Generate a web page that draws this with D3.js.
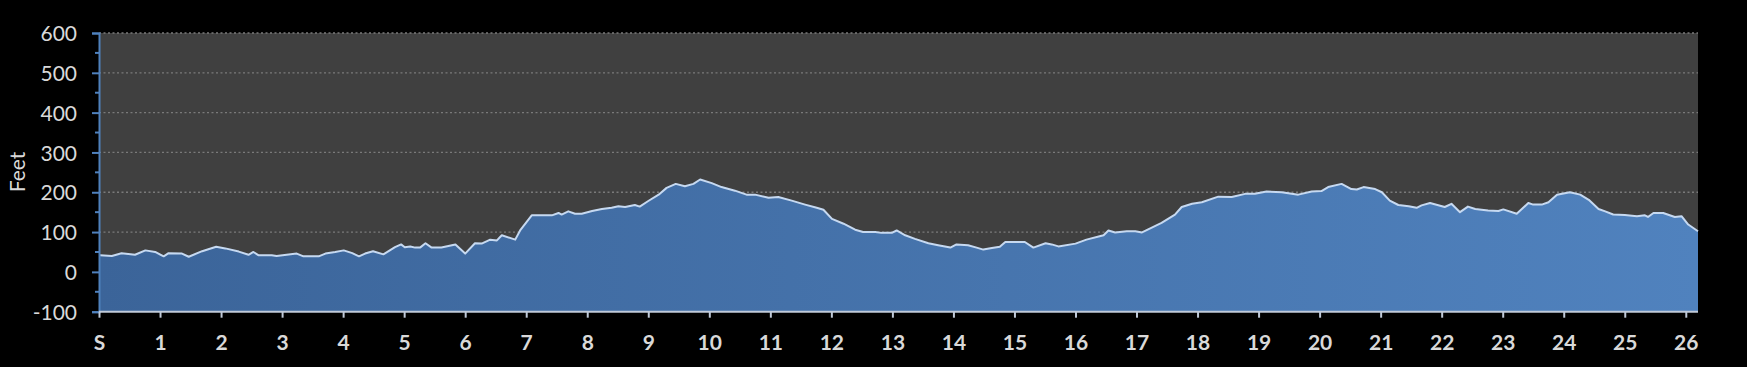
<!DOCTYPE html>
<html>
<head>
<meta charset="utf-8">
<script src="https://cdn.jsdelivr.net/npm/d3@7"></script>
<style>
  html, body { margin: 0; padding: 0; background: #000; }
  svg { display: block; }
</style>
</head>
<body>
<script>
// Elevation profile data (mile, feet)
const miles = [0,0.02,0.21,0.37,0.59,0.76,0.92,1.06,1.14,1.36,1.47,1.69,1.92,2.07,2.29,2.45,2.53,2.61,2.83,2.91,3.24,3.35,3.60,3.71,3.87,4.01,4.15,4.26,4.36,
  4.49,4.66,4.85,4.95,5.01,5.10,5.18,5.26,5.35,5.45,5.61,5.84,6.00,6.16,6.27,6.41,6.52,6.60,6.82,6.90,7.09,7.42,7.53,7.58,7.69,7.80,7.91,8.08,8.24,8.40,8.51,8.62,8.78,
  8.86,9.00,9.17,9.30,9.45,9.60,9.74,9.85,10.04,10.20,10.42,10.61,10.75,10.97,11.13,11.35,11.57,11.76,11.87,12.01,12.20,12.39,12.52,12.72,12.82,12.99,13.07,13.21,
  13.37,13.59,13.75,13.95,14.05,14.24,14.38,14.49,14.63,14.76,14.85,15.01,15.17,15.31,15.51,15.61,15.72,16.00,16.18,16.38,16.46,16.54,16.65,16.84,16.98,17.09,17.25,17.41,17.63,
  17.74,17.91,18.07,18.34,18.56,18.78,18.94,19.13,19.38,19.65,19.87,20.03,20.14,20.36,20.52,20.61,20.72,20.91,21.02,21.15,21.29,21.46,21.59,21.67,21.81,22.05,
  22.16,22.30,22.43,22.55,22.76,22.93,23.01,23.23,23.42,23.50,23.64,23.75,23.89,24.10,24.27,24.41,24.57,24.68,24.81,25.00,25.20,25.33,25.38,25.47,25.63,25.82,25.93,26.04,26.2];
const elevation = [42,42,40,47,43,54,50,39,47,46,38,52,63,59,51,43,50,42,42,40,46,39,39,46,50,54,47,39,46,
  52,44,62,69,62,64,61,61,72,61,61,69,46,72,71,81,79,92,81,104,142,142,148,144,152,146,146,153,158,161,165,163,168,
  164,178,194,211,221,215,221,232,223,213,204,194,194,186,188,179,169,161,156,133,121,106,100,100,98,98,104,92,
  83,72,67,61,69,67,61,56,60,63,75,75,75,61,72,69,64,71,81,89,92,104,99,102,102,99,111,123,144,
  163,171,175,189,188,196,196,202,200,194,202,203,213,221,208,207,213,208,200,179,168,165,161,167,173,163,
  171,150,164,158,154,153,157,146,173,169,169,175,194,200,194,181,158,152,144,143,140,142,138,148,148,138,140,119,102];

const xTickValues = d3.range(0, 27);
const xTickLabels = ["S"].concat(d3.range(1, 27).map(String));
const yTickValues = [-100, 0, 100, 200, 300, 400, 500, 600];
const yTickLabels = ["-100", "0", "100", "200", "300", "400", "500", "600"];
const yMinorValues = [-50, 50, 150, 250, 350, 450, 550];
const gridValues = [100, 200, 300, 400, 500, 600];

const W = 1747, H = 367;
const pLeft = 99, pRight = 1698, pTop = 33, pBottom = 311.7;

const svg = d3.select("body").append("svg").attr("width", W).attr("height", H);

const x = d3.scaleLinear().domain([0, 26.2]).range([pLeft, pRight]);
const y = d3.scaleLinear().domain([-100, 600]).range([pBottom, pTop]);

// plot background
svg.append("rect").attr("x", pLeft).attr("y", pTop).attr("width", pRight - pLeft).attr("height", pBottom - pTop).attr("fill", "#404040");

// gridlines
svg.append("g").selectAll("line").data(gridValues).join("line")
  .attr("x1", pLeft).attr("x2", pRight)
  .attr("y1", d => y(d)).attr("y2", d => y(d))
  .attr("stroke", "#7a7a7a").attr("stroke-width", 1.3).attr("stroke-dasharray", "2,2.5");

// gradient
const defs = svg.append("defs");
const grad = defs.append("linearGradient").attr("id", "areaGrad").attr("x1", "0%").attr("x2", "100%").attr("y1", "0%").attr("y2", "0%");
grad.append("stop").attr("offset", "0%").attr("stop-color", "#3b6499");
grad.append("stop").attr("offset", "100%").attr("stop-color", "#5082be");

const pts = miles.map((m, i) => [m, elevation[i]]);
const area = d3.area().x(d => x(d[0])).y0(y(-100)).y1(d => y(d[1]));
const line = d3.line().x(d => x(d[0])).y(d => y(d[1]));

svg.append("path").datum(pts).attr("d", area).attr("fill", "url(#areaGrad)");
svg.append("path").datum(pts).attr("d", line).attr("fill", "none").attr("stroke", "#c6d9f1").attr("stroke-width", 2).attr("stroke-linejoin", "round");

// Y axis
const yAxis = d3.axisLeft(y).tickValues(yTickValues).tickSize(7).tickFormat((d, i) => yTickLabels[i]);
const gy = svg.append("g").attr("transform", `translate(${pLeft},0)`).call(yAxis);
gy.select(".domain").attr("stroke", "#4f81bd").attr("stroke-width", 2);
gy.selectAll(".tick line").attr("stroke", "#4f81bd").attr("stroke-width", 2);
gy.selectAll(".tick text").attr("fill", "#d9d9d9").attr("font-family", "Lato, 'Open Sans', sans-serif").attr("font-size", 21).attr("x", -22).attr("dy", "0.36em");
const gyMinor = svg.append("g");
gyMinor.selectAll("line").data(yMinorValues).join("line")
  .attr("x1", pLeft - 4).attr("x2", pLeft).attr("y1", d => y(d)).attr("y2", d => y(d))
  .attr("stroke", "#4f81bd").attr("stroke-width", 2);

// X axis
const xAxis = d3.axisBottom(x).tickValues(xTickValues).tickSize(6).tickFormat((d, i) => xTickLabels[i]);
const gx = svg.append("g").attr("transform", `translate(0,${pBottom})`).call(xAxis);
gx.select(".domain").attr("stroke", "#c0cad9").attr("stroke-width", 2).attr("d", `M${pLeft},0H${pRight}`);
gx.selectAll(".tick line").attr("stroke", "#c0cad9").attr("stroke-width", 2);
gx.selectAll(".tick text").attr("fill", "#d9d9d9").attr("font-family", "Lato, 'Open Sans', sans-serif").attr("font-weight", "bold").attr("font-size", 21).attr("y", 23);

// Y axis title
svg.append("text").attr("transform", "translate(25,172) rotate(-90)")
  .attr("text-anchor", "middle").attr("fill", "#d9d9d9")
  .attr("font-family", "Lato, 'Open Sans', sans-serif").attr("font-size", 21).text("Feet");
</script>
</body>
</html>
